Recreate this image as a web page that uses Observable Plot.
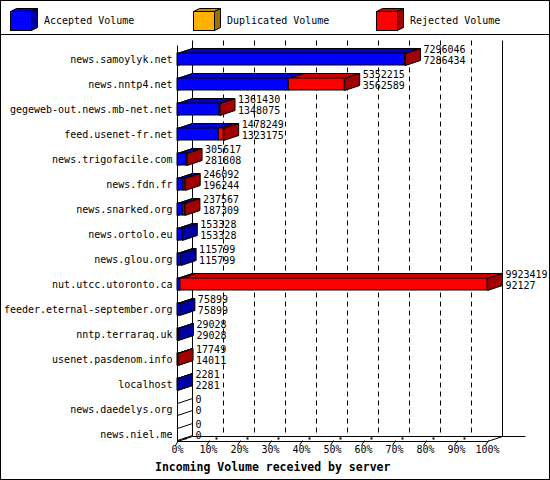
<!DOCTYPE html>
<html><head><meta charset="utf-8">
<script src="https://cdn.jsdelivr.net/npm/d3@7"></script>
<script src="https://cdn.jsdelivr.net/npm/@observablehq/plot@0.6"></script>
<style>
body{margin:0;background:#fff;}
#frame{position:relative;width:550px;height:480px;box-sizing:border-box;border:1px solid #000;background:#fff;overflow:hidden;font-family:"DejaVu Sans Mono",monospace;color:#000;}
#legend{position:relative;height:33px;border-bottom:1px solid #000;}
.item{position:absolute;top:0;height:33px;width:170px;}
.item svg{position:absolute;left:0;top:0;}
.item span{position:absolute;left:34px;top:14px;font-size:10px;line-height:12px;white-space:nowrap;}
#chart svg{display:block;}
#caption{position:absolute;left:154px;top:459px;font-weight:bold;font-size:11.5px;line-height:14px;white-space:nowrap;}
</style></head>
<body>
<div id="frame"><div id="legend"></div><div id="chart"></div><div id="caption"></div></div>
<script>
const hosts = ["news.samoylyk.net","news.nntp4.net","gegeweb-out.news.mb-net.net","feed.usenet-fr.net","news.trigofacile.com","news.fdn.fr","news.snarked.org","news.ortolo.eu","news.glou.org","nut.utcc.utoronto.ca","feeder.eternal-september.org","nntp.terraraq.uk","usenet.pasdenom.info","localhost","news.daedelys.org","news.niel.me"];
const totalVolume = [7296046,5352215,1361430,1478249,305617,246092,237567,153328,115799,9923419,75899,29028,17749,2281,0,0];
const acceptedVolume = [7286434,3562589,1348075,1323175,281808,196244,187309,153328,115799,92127,75899,29028,14011,2281,0,0];
const duplicatedVolume = [0,0,0,0,0,0,0,0,0,0,0,0,0,0,0,0];
const seriesNames = ["Accepted Volume","Duplicated Volume","Rejected Volume"];
const frontColors = ["#0000ff","#ffb000","#ff0000"];
const topColors = ["#0000c8","#c88c00","#c80000"];
const sideColors = ["#0000a0","#a07000","#a00000"];
const tickPercents = [0,10,20,30,40,50,60,70,80,90,100];
const xTitle = "Incoming Volume received by server";

// legend
const legendLeft = [9,192,375];
const legend = d3.select("#legend");
seriesNames.forEach((name,i)=>{
  const it = legend.append("div").attr("class","item").style("left",legendLeft[i]+"px");
  const s = it.append("svg").attr("width",40).attr("height",33);
  const g = s.append("g").attr("stroke","#000").attr("stroke-width",1);
  g.append("polygon").attr("points","0.5,10.5 21.5,10.5 27.5,7.5 6.5,7.5").attr("fill",topColors[i]);
  g.append("polygon").attr("points","21.5,10.5 27.5,7.5 27.5,26.5 21.5,29.5").attr("fill",sideColors[i]);
  g.append("rect").attr("x",0.5).attr("y",10.5).attr("width",21).attr("height",19).attr("fill",frontColors[i]);
  it.append("span").text(name);
});
d3.select("#caption").text(xTitle);

const maxTotal = d3.max(totalVolume);
const rows = hosts.map((h,i)=>({host:h,total:totalVolume[i],acc:acceptedVolume[i],dup:duplicatedVolume[i],rej:totalVolume[i]-acceptedVolume[i]-duplicatedVolume[i]}));
const segments = rows.flatMap(r=>{let a=0;return [r.acc,r.dup,r.rej].map((v,k)=>{const s={host:r.host,x1:a,x2:a+v,k,series:seriesNames[k]};a+=v;return s;}).filter(s=>s.x2>s.x1);});
const DX=15, DY=5;
const off = (typeof window!=="undefined" && window.devicePixelRatio>1)?0:0.5;
const poly = pts => "M"+pts.map(p=>p.join(",")).join("L")+"Z";

function frame3d(index,{x,y},values,dims){
  const g = d3.create("svg:g").attr("fill","none").attr("stroke","#000").attr("transform",`translate(${off},${off})`);
  const x0=x(0), x100=x(maxTotal), top=dims.marginTop;
  const bw = y.bandwidth?y.bandwidth():12;
  const floor = y(hosts[hosts.length-1])+bw+1;
  // back verticals
  g.append("path").attr("d",`M${x0+DX},${top}L${x0+DX},${floor-DY}M${x100+DX},${top}L${x100+DX},${floor-DY}`);
  // dashed grid
  tickPercents.filter(p=>p>0&&p<100).forEach(p=>{
    const xx=x(p/100*maxTotal)+DX;
    g.append("path").attr("d",`M${xx},${top}L${xx},${floor-DY}`).attr("stroke-dasharray","5,4");
  });
  // floor
  g.append("path").attr("d",`M${x0+DX},${floor-DY}L${x100+38},${floor-DY}`);
  g.append("path").attr("d",`M${x0},${floor}L${x100},${floor}L${x100+DX},${floor-DY}M${x0},${floor}L${x0+DX},${floor-DY}`);
  // front axis
  g.append("path").attr("d",`M${x0},${top+DY}L${x0},${floor}`);
  // floor ticks
  tickPercents.forEach(p=>{
    const xx=x(p/100*maxTotal);
    g.append("path").attr("d",`M${xx-2},${floor+4}L${xx+1},${floor-1}`);
    if(p<100) g.append("rect").attr("x",xx+7).attr("y",floor-4).attr("width",2).attr("height",2).attr("fill","#000").attr("stroke","none");
  });
  return g.node();
}

function faces(index,{x,y}){
  const g = d3.create("svg:g").attr("stroke","#000").attr("transform",`translate(${off},${off})`);
  const bw = y.bandwidth?y.bandwidth():12;
  const x0=x(0);
  for(const r of rows){
    const y0=y(r.host), y1=y0+bw;
    g.append("path").attr("fill","none").attr("d",`M${x0},${y0}L${x0+DX},${y0-DY}M${x0},${y1}L${x0+DX},${y1-DY}`);
    const segs = segments.filter(s=>s.host===r.host);
    for(const s of segs){
      const a=x(s.x1), b=x(s.x2);
      g.append("path").attr("fill",topColors[s.k]).attr("d",poly([[a,y0],[b,y0],[b+DX,y0-DY],[a+DX,y0-DY]]));
    }
    if(segs.length){
      const last=segs[segs.length-1], e=x(r.total);
      g.append("path").attr("fill",sideColors[last.k]).attr("d",poly([[e,y0],[e+DX,y0-DY],[e+DX,y1-DY],[e,y1]]));
    }
  }
  return g.node();
}

const chart = Plot.plot({
  width:548, height:426,
  marginLeft:176, marginRight:62, marginTop:5, marginBottom:8,
  style:{fontFamily:"DejaVu Sans Mono, monospace", fontSize:"10px", color:"#000", background:"#fff"},
  x:{domain:[0,maxTotal], axis:null},
  y:{domain:hosts, padding:0.52, axis:null},
  color:{domain:seriesNames, range:frontColors},
  marks:[
    frame3d,
    faces,
    Plot.barX(segments,{x1:"x1",x2:"x2",y:"host",fill:"series",stroke:"#000",strokeWidth:1}),
    Plot.text(rows,{y:"host",text:"host",frameAnchor:"left",textAnchor:"end",dx:-5,fill:"#000"}),
    Plot.text(rows,{x:"total",y:"host",text:d=>String(d.total),textAnchor:"start",dx:18,dy:-9.5,fill:"#000"}),
    Plot.text(rows,{x:"total",y:"host",text:d=>String(d.acc),textAnchor:"start",dx:18,dy:1.5,fill:"#000"}),
    Plot.text(tickPercents,{x:d=>d/100*maxTotal,text:d=>d+"%",frameAnchor:"bottom",dy:-1,fill:"#000"})
  ]
});
document.getElementById("chart").appendChild(chart);
</script>
</body></html>
